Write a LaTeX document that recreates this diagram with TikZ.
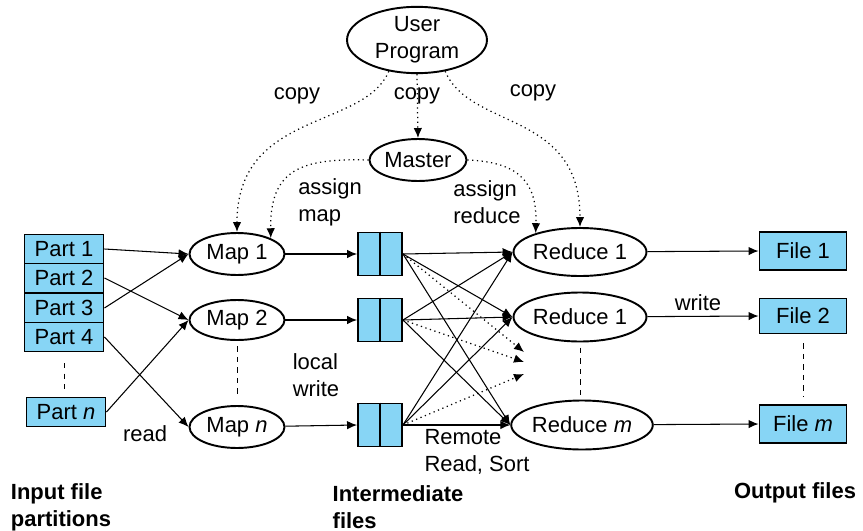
\documentclass[tikz,border=0pt]{standalone}
\usepackage{fontspec}
\setmainfont{Liberation Sans}
\usetikzlibrary{arrows.meta,positioning,shapes.geometric}
\definecolor{partblue}{RGB}{135,213,245}

\begin{document}
\begin{tikzpicture}[x=0.02cm,y=-0.02cm,
  font=\fontsize{12.5}{15.5}\selectfont,
  >={Latex[length=2mm,width=1.7mm]},
  oval/.style={draw,ellipse,line width=1.1pt,inner sep=0pt},
  part/.style={draw,fill=partblue,line width=1.1pt,minimum width=1.58cm,minimum height=0.58cm,inner sep=0pt},
  filebox/.style={draw,fill=partblue,line width=1.1pt,minimum width=1.74cm,minimum height=0.76cm,inner sep=0pt},
  inter/.style={draw,fill=partblue,line width=1.1pt,minimum width=0.88cm,minimum height=0.86cm,inner sep=0pt},
  flow/.style={->,line width=0.6pt},
  ctrl/.style={->,dotted,line width=0.7pt},
  lbl/.style={align=left,inner sep=0pt},
  head/.style={align=left,inner sep=0pt,font=\fontsize{12.5}{15.5}\selectfont\bfseries}]
\useasboundingbox (0,0) rectangle (863,531);

% user program and master
\node[oval,minimum width=2.8cm,minimum height=1.28cm,align=center] (U) at (417,40) {User\\Program};
\node[oval,minimum width=1.94cm,minimum height=0.84cm] (M) at (418,160) {Master};

% input partitions
\node[part] (P1) at (64,249) {Part 1};
\node[part] (P2) at (64,278) {Part 2};
\node[part] (P3) at (64,308) {Part 3};
\node[part] (P4) at (64,337) {Part 4};
\node[part] (Pn) at (66,412) {Part \textit{n}};

% map workers
\node[oval,minimum width=1.9cm,minimum height=0.84cm] (M1) at (237,254) {Map 1};
\node[oval,minimum width=1.9cm,minimum height=0.8cm] (M2) at (237,320) {Map 2};
\node[oval,minimum width=1.9cm,minimum height=0.84cm] (Mn) at (237,427) {Map \textit{n}};

% intermediate files
\node[inter] (B1) at (380,254) {};
\node[inter] (B2) at (380,320) {};
\node[inter] (B3) at (380,425) {};
\draw[line width=1.1pt] (B1.north) -- (B1.south);
\draw[line width=1.1pt] (B2.north) -- (B2.south);
\draw[line width=1.1pt] (B3.north) -- (B3.south);

% reduce workers
\node[oval,minimum width=2.42cm,minimum height=0.96cm] (R1) at (580,252) {Reduce 1};
\node[oval,minimum width=2.42cm,minimum height=0.98cm] (R2) at (580,317) {Reduce 1};
\node[oval,minimum width=2.42cm,minimum height=0.98cm] (Rm) at (582,425) {Reduce \textit{m}};

% output files
\node[filebox] (F1) at (803,251) {File 1};
\node[filebox,minimum height=0.7cm] (F2) at (803,316) {File 2};
\node[filebox] (Fm) at (803,424) {File \textit{m}};

% free ends of the dotted reads
\coordinate (D1) at (524,352);
\coordinate (D2) at (524,362);
\coordinate (D3) at (524,374);

% labels
\node[lbl] (c1) at (297,96) {copy};
\node[lbl] (c2) at (417,96) {copy};
\node[lbl] (c3) at (533,93) {copy};
\node[lbl] (am) at (330,202) {assign\\map};
\node[lbl] (ar) at (487,202) {assign\\reduce};
\node[lbl] (lw) at (316,375) {local\\write};
\node[lbl] (rd) at (145,434) {read};
\node[lbl] (rr) at (477,452) {Remote\\Read, Sort};
\node[lbl] (wr) at (698,303) {write};
\node[head] (h1) at (61,507) {Input file\\partitions};
\node[head] (h2) at (398,507) {Intermediate\\files};
\node[head] (h3) at (795,493) {Output files};

% control
\draw[ctrl] (U.south) -- (M.north);
\draw[ctrl] (U.228) .. controls (364,130) and (237,110) .. (M1.north);
\draw[ctrl] (U.312) .. controls (470,130) and (580,110) .. (R1.north);
\draw[ctrl] (M.west) .. controls (300,158) and (270,170) .. (M1.25);
\draw[ctrl] (M.east) .. controls (522,162) and (537,185) .. (R1.157);

% read
\draw[flow] (P1.east) -- (M1.west);
\draw[flow] (P2.east) -- (M2.west);
\draw[flow] (P3.east) -- (M1.west);
\draw[flow] (P4.east) -- (Mn.west);
\draw[flow] (Pn.east) -- (M2.west);

% local write
\draw[flow] (M1) -- (B1.west);
\draw[flow] (M2) -- (B2.west);
\draw[flow] (Mn) -- (B3.west);

% remote read
\foreach \b in {B1,B2,B3}
  \foreach \r in {R1,R2,Rm}
    \draw[flow] (\b.east) -- (\r.west);
\draw[ctrl] (B1.east) -- (D1);
\draw[ctrl] (B2.east) -- (D2);
\draw[ctrl] (B3.east) -- (D3);

% write
\draw[flow] (R1) -- (F1.west);
\draw[flow] (R2) -- (F2.west);
\draw[flow] (Rm) -- (Fm.west);

% continuation marks
\draw[dashed] ([yshift=-6pt]P4.south) -- ([yshift=2pt]P4.south |- Pn.north);
\draw[dashed] ([yshift=-3pt]M2.south) -- ([yshift=5pt]Mn.north);
\draw[dashed] ([yshift=-3pt]R2.south) -- ([yshift=1pt]R2.south |- Rm.north);
\draw[dashed] ([yshift=-5pt]F2.south) -- ([yshift=4pt]Fm.north);
\end{tikzpicture}
\end{document}
